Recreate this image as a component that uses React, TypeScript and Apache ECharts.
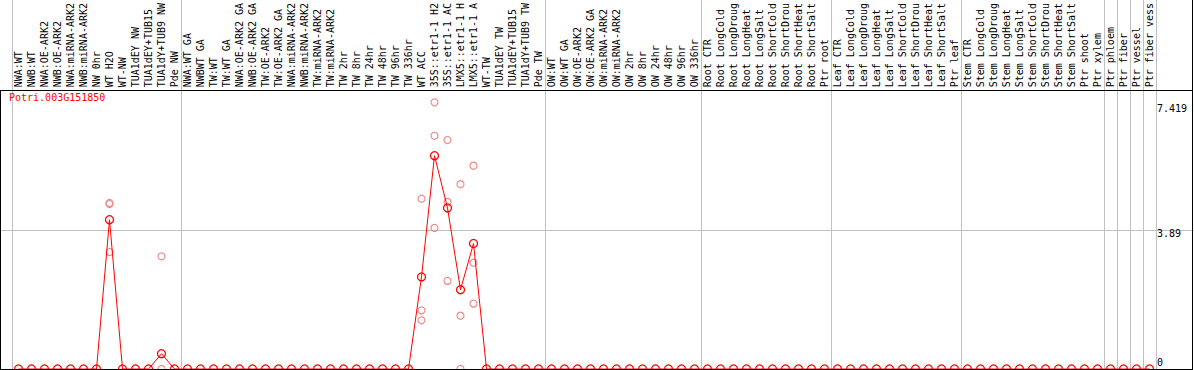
import React, { useEffect, useRef } from "react";
import * as echarts from "echarts";

const categories = [
  "NWA:WT", "NWB:WT", "NWA:OE-ARK2", "NWB:OE-ARK2", "NWA:miRNA-ARK2", "NWB:miRNA-ARK2",
  "NW 0hr", "WT H2O", "WT-NW", "TUA1dEY NW", "TUA1dEY+TUB15", "TUA1dY+TUB9 NW", "Pde NW",
  "NWA:WT GA", "NWBWT GA", "TW:WT", "TW:WT GA", "NWA:OE-ARK2 GA", "NWB:OE-ARK2 GA",
  "TW:OE-ARK2", "TW:OE-ARK2 GA", "NWA:miRNA-ARK2", "NWB:miRNA-ARK2", "TW:miRNA-ARK2",
  "TW:miRNA-ARK2", "TW 2hr", "TW 8hr", "TW 24hr", "TW 48hr", "TW 96hr", "TW 336hr",
  "WT ACC", "35S::etr1-1 H2", "35S::etr1-1 AC", "LMX5::etr1-1 H", "LMX5::etr1-1 A",
  "WT-TW", "TUA1dEY TW", "TUA1dEY+TUB15", "TUA1dY+TUB9 TW", "Pde TW",
  "OW:WT", "OW:WT GA", "OW:OE-ARK2", "OW:OE-ARK2 GA", "OW:miRNA-ARK2", "OW:miRNA-ARK2",
  "OW 2hr", "OW 8hr", "OW 24hr", "OW 48hr", "OW 96hr", "OW 336hr",
  "Root CTR", "Root LongCold", "Root LongDroug", "Root LongHeat", "Root LongSalt",
  "Root ShortCold", "Root ShortDrou", "Root ShortHeat", "Root ShortSalt", "Ptr root",
  "Leaf CTR", "Leaf LongCold", "Leaf LongDroug", "Leaf LongHeat", "Leaf LongSalt",
  "Leaf ShortCold", "Leaf ShortDrou", "Leaf ShortHeat", "Leaf ShortSalt", "Ptr leaf",
  "Stem CTR", "Stem LongCold", "Stem LongDroug", "Stem LongHeat", "Stem LongSalt",
  "Stem ShortCold", "Stem ShortDrou", "Stem ShortHeat", "Stem ShortSalt", "Ptr shoot",
  "Ptr xylem", "Ptr phloem", "Ptr fiber", "Ptr vessel", "Ptr fiber vess",
];

const meanValues = [
  0, 0, 0, 0, 0, 0, 0, 4.2, 0, 0, 0, 0.43, 0,
  0, 0, 0, 0, 0, 0, 0, 0, 0, 0, 0, 0, 0, 0, 0, 0, 0, 0,
  2.59, 6.0, 4.53, 2.23, 3.53, 0, 0, 0, 0, 0,
  0, 0, 0, 0, 0, 0, 0, 0, 0, 0, 0, 0,
  0, 0, 0, 0, 0, 0, 0, 0, 0, 0,
  0, 0, 0, 0, 0, 0, 0, 0, 0, 0,
  0, 0, 0, 0, 0, 0, 0, 0, 0, 0,
  0, 0, 0, 0, 0,
];

const replicateIndex = [7, 7, 7, 11, 11, 31, 31, 31, 32, 32, 32, 33, 33, 33, 34, 34, 34, 35, 35, 35];
const replicateValues = [4.64, 4.67, 3.29, 3.17, 0, 4.79, 1.65, 1.37, 7.5, 6.56, 3.97, 6.44, 4.7, 2.48, 5.2, 1.5, 0, 5.72, 2.99, 1.84];

const separatorsAfter = [-1, 12, 40, 52, 62, 72, 83, 84, 85, 86, 87];
const yLabelValues = [7.419, 3.89, 0];
const gridLineValue = 3.89;
const geneName = "Potri.003G151850";
const yMax = 7.84;

export default function App() {
  const ref = useRef<HTMLDivElement>(null);
  useEffect(() => {
    const el = ref.current!;
    const chart = echarts.init(el, null, { renderer: "svg" });
    const font = "'DejaVu Sans Mono', monospace";
    chart.setOption({
      animation: false,
      backgroundColor: "#fff",
      title: {
        text: geneName,
        left: 9,
        top: 92,
        padding: 0,
        textStyle: { color: "#ff0000", fontSize: 10, fontWeight: "normal", fontFamily: font },
      },
      grid: { left: 12, right: 38, top: 86, bottom: 1, containLabel: false },
      xAxis: {
        type: "category",
        position: "top",
        data: categories,
        boundaryGap: true,
        axisLine: { show: false },
        axisTick: { show: false },
        splitLine: { show: false },
        axisLabel: { interval: 0, rotate: 90, margin: 3, fontSize: 10, fontFamily: font, color: "#000" },
      },
      yAxis: { type: "value", min: 0, max: yMax, show: false },
      series: [
        {
          type: "scatter",
          data: replicateIndex.map((c, i) => [c, replicateValues[i]]),
          symbol: "circle",
          symbolSize: 7,
          itemStyle: { color: "rgba(0,0,0,0)", borderColor: "#ec8c8c", borderWidth: 1.2, opacity: 1 },
          z: 3,
          clip: false,
        },
        {
          type: "line",
          data: meanValues,
          symbol: "circle",
          symbolSize: 8,
          showAllSymbol: true,
          lineStyle: { color: "#ff0000", width: 1 },
          itemStyle: { color: "rgba(0,0,0,0)", borderColor: "#ff0000", borderWidth: 1.3 },
          z: 4,
          clip: false,
        },
      ],
    });

    const p0 = chart.convertToPixel({ gridIndex: 0 }, [0, 0]) as number[];
    const p1 = chart.convertToPixel({ gridIndex: 0 }, [1, 0]) as number[];
    const step = p1[0] - p0[0];
    const yPix = (v: number) => (chart.convertToPixel({ gridIndex: 0 }, [0, v]) as number[])[1];
    const xPix = (i: number) => p0[0] + i * step;
    const yZero = yPix(0);
    const yTop = yPix(yMax);
    const gray = "#c0c0c0";
    const graphics: any[] = [];
    separatorsAfter.forEach((i) => {
      const x = Math.floor(xPix(i) + step / 2) + 0.5;
      graphics.push({ type: "line", z: 1, shape: { x1: x, y1: 0, x2: x, y2: yZero }, style: { stroke: gray, lineWidth: 1 } });
    });
    const yg = Math.floor(yPix(gridLineValue)) + 0.5;
    graphics.push({ type: "line", z: 1, shape: { x1: 0, y1: yg, x2: 1194, y2: yg }, style: { stroke: gray, lineWidth: 1 } });
    const yt = Math.floor(yTop) + 0.5;
    graphics.push({ type: "line", z: 5, shape: { x1: 0, y1: yt, x2: 1192, y2: yt }, style: { stroke: "#000", lineWidth: 1 } });
    graphics.push({ type: "line", z: 5, shape: { x1: 1192.5, y1: 0, x2: 1192.5, y2: 370 }, style: { stroke: "#000", lineWidth: 1 } });
    graphics.push({ type: "line", z: 5, shape: { x1: 0.5, y1: yt, x2: 0.5, y2: 370 }, style: { stroke: "#000", lineWidth: 1 } });
    graphics.push({ type: "line", z: 5, shape: { x1: 0, y1: 369.5, x2: 1193, y2: 369.5 }, style: { stroke: "#000", lineWidth: 1 } });
    yLabelValues.forEach((v) => {
      graphics.push({
        type: "text",
        z: 5,
        x: 1157,
        y: v === 0 ? yPix(v) - 2 : yPix(v) - 2,
        style: {
          text: String(v),
          fill: "#000",
          fontSize: 10,
          fontFamily: font,
          verticalAlign: v === 0 ? "bottom" : "top",
          align: "left",
        },
      });
    });
    chart.setOption({ graphic: graphics });

    return () => chart.dispose();
  }, []);
  return <div ref={ref} style={{ position: "absolute", left: 0, top: 0, width: 1194, height: 370 }} />;
}
